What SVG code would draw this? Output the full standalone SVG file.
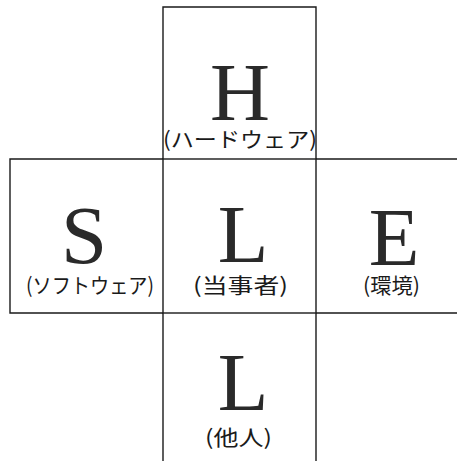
<svg xmlns="http://www.w3.org/2000/svg" width="457" height="461" viewBox="0 0 457 461">
<style>
.box{fill:none;stroke:#1a1a1a;stroke-width:1.4}
.big{font-family:"Liberation Serif","Times New Roman",serif;font-size:83px;fill:#2a2a2a;text-anchor:middle}
.lbl{font-family:"Noto Sans CJK JP","Noto Sans",sans-serif;font-size:21px;fill:#1a1a1a}
</style>
<rect width="457" height="461" fill="#ffffff"/>
<g id="node-H">
<path class="box" d="M163,159 V7 H316 V159"/>
<text class="big" x="240" y="120">H</text>
<text class="lbl" x="163" y="147" textLength="154" lengthAdjust="spacingAndGlyphs">(ハードウェア)</text>
</g>
<g id="node-S">
<path class="box" d="M163,159 H10 V313 H163"/>
<text class="big" x="84" y="263">S</text>
<text class="lbl" x="26" y="293" textLength="128" lengthAdjust="spacingAndGlyphs">(ソフトウェア)</text>
</g>
<g id="node-L-center">
<rect class="box" x="163" y="159" width="153" height="154"/>
<text class="big" x="243" y="262">L</text>
<text class="lbl" x="193" y="293" textLength="95" lengthAdjust="spacingAndGlyphs">(当事者)</text>
</g>
<g id="node-E">
<path class="box" d="M316,159 H457 M316,313 H457"/>
<text class="big" x="394" y="265">E</text>
<text class="lbl" x="363" y="293" textLength="57" lengthAdjust="spacingAndGlyphs">(環境)</text>
</g>
<g id="node-L-other">
<path class="box" d="M163,313 V461 M316,313 V461"/>
<text class="big" x="243" y="410">L</text>
<text class="lbl" x="205" y="445" textLength="67" lengthAdjust="spacingAndGlyphs">(他人)</text>
</g>
<g id="connectors"></g>
</svg>
